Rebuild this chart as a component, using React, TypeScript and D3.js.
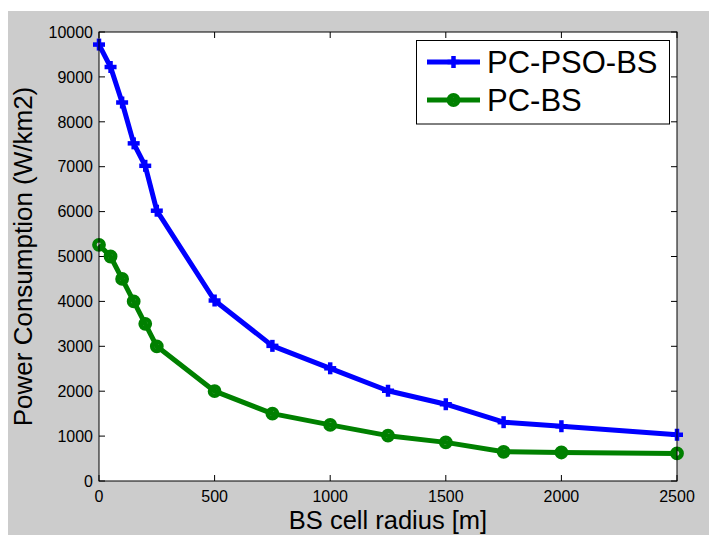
import React from "react";
import * as d3 from "d3";

const radius = [0, 50, 100, 150, 200, 250, 500, 750, 1000, 1250, 1500, 1750, 2000, 2500];
const pcPsoBs = [9720, 9220, 8430, 7520, 7020, 6020, 4020, 3010, 2510, 2010, 1710, 1310, 1220, 1030];
const pcBs = [5260, 5000, 4500, 4000, 3500, 3000, 2000, 1500, 1250, 1010, 860, 650, 635, 615];
const xTicks = [0, 500, 1000, 1500, 2000, 2500];
const yTicks = [0, 1000, 2000, 3000, 4000, 5000, 6000, 7000, 8000, 9000, 10000];
const seriesNames = ["PC-PSO-BS", "PC-BS"];
const seriesColors = ["#0000ff", "#008000"];

const W = 709;
const H = 535;
const L = 99, R = 677, T = 32, B = 481;
const FONT = "'Liberation Sans', Arial, sans-serif";

export default function App() {
  const x = d3.scaleLinear().domain([0, 2500]).range([L, R]);
  const y = d3.scaleLinear().domain([0, 10000]).range([B, T]);
  const line = d3
    .line<[number, number]>()
    .x((d) => x(d[0]))
    .y((d) => y(d[1]));
  const blueData: [number, number][] = radius.map((r, i) => [r, pcPsoBs[i]]);
  const greenData: [number, number][] = radius.map((r, i) => [r, pcBs[i]]);

  const plus = (cx: number, cy: number, key: string, color: string) => (
    <g key={key} stroke={color} strokeWidth={4.5}>
      <line x1={cx - 6} x2={cx + 6} y1={cy} y2={cy} />
      <line x1={cx} x2={cx} y1={cy - 6} y2={cy + 6} />
    </g>
  );
  const circ = (cx: number, cy: number, key: string, color: string) => (
    <circle key={key} cx={cx} cy={cy} r={4.6} fill="none" stroke={color} strokeWidth={4.6} />
  );

  const tick = 6;

  return (
    <svg
      width={W}
      height={H}
      style={{ position: "absolute", left: 0, top: 0, display: "block" }}
      fontFamily={FONT}
    >
      <rect x={0} y={0} width={W} height={H} fill="#ffffff" />
      <rect x={8} y={11} width={W - 8} height={H - 11} fill="#cccccc" />
      <rect x={L} y={T} width={R - L} height={B - T} fill="#ffffff" />

      {/* ticks */}
      <g stroke="#000" strokeWidth={1}>
        {xTicks.map((t) => (
          <g key={"xt" + t}>
            <line x1={x(t)} x2={x(t)} y1={B} y2={B - tick} />
            <line x1={x(t)} x2={x(t)} y1={T} y2={T + tick} />
          </g>
        ))}
        {yTicks.map((t) => (
          <g key={"yt" + t}>
            <line x1={L} x2={L + tick} y1={y(t)} y2={y(t)} />
            <line x1={R} x2={R - tick} y1={y(t)} y2={y(t)} />
          </g>
        ))}
      </g>

      {/* series */}
      <path d={line(blueData) || ""} fill="none" stroke={seriesColors[0]} strokeWidth={5} strokeLinejoin="round" />
      {blueData.map((d, i) => plus(x(d[0]), y(d[1]), "bp" + i, seriesColors[0]))}
      <path d={line(greenData) || ""} fill="none" stroke={seriesColors[1]} strokeWidth={5} strokeLinejoin="round" />
      {greenData.map((d, i) => circ(x(d[0]), y(d[1]), "gp" + i, seriesColors[1]))}

      <rect x={L} y={T} width={R - L} height={B - T} fill="none" stroke="#000" strokeWidth={1} />

      {/* tick labels */}
      <g fontSize={16} fill="#000">
        {xTicks.map((t) => (
          <text key={"xl" + t} x={x(t)} y={501.5} textAnchor="middle">
            {t}
          </text>
        ))}
        {yTicks.map((t) => (
          <text key={"yl" + t} x={93} y={y(t) + 5.7} textAnchor="end">
            {t}
          </text>
        ))}
      </g>

      {/* axis labels */}
      <text x={(L + R) / 2} y={528.5} fontSize={25.5} textAnchor="middle" fill="#000">
        BS cell radius [m]
      </text>
      <text
        transform={`translate(31.5, ${(T + B) / 2}) rotate(-90)`}
        fontSize={26}
        textAnchor="middle"
        fill="#000"
      >
        Power Consumption (W/km2)
      </text>

      {/* legend */}
      <rect x={416.5} y={40.5} width={253} height={83.5} fill="#ffffff" stroke="#000" strokeWidth={1} />
      {seriesNames.map((name, i) => {
        const ly = i === 0 ? 62 : 100;
        const color = seriesColors[i];
        return (
          <g key={"lg" + i}>
            <line x1={427} x2={480} y1={ly} y2={ly} stroke={color} strokeWidth={5} />
            {i === 0 ? plus(453.5, ly, "lm" + i, color) : circ(453.5, ly, "lm" + i, color)}
            <text x={487} y={ly + 11.3} fontSize={31} fill="#000">
              {name}
            </text>
          </g>
        );
      })}
    </svg>
  );
}
